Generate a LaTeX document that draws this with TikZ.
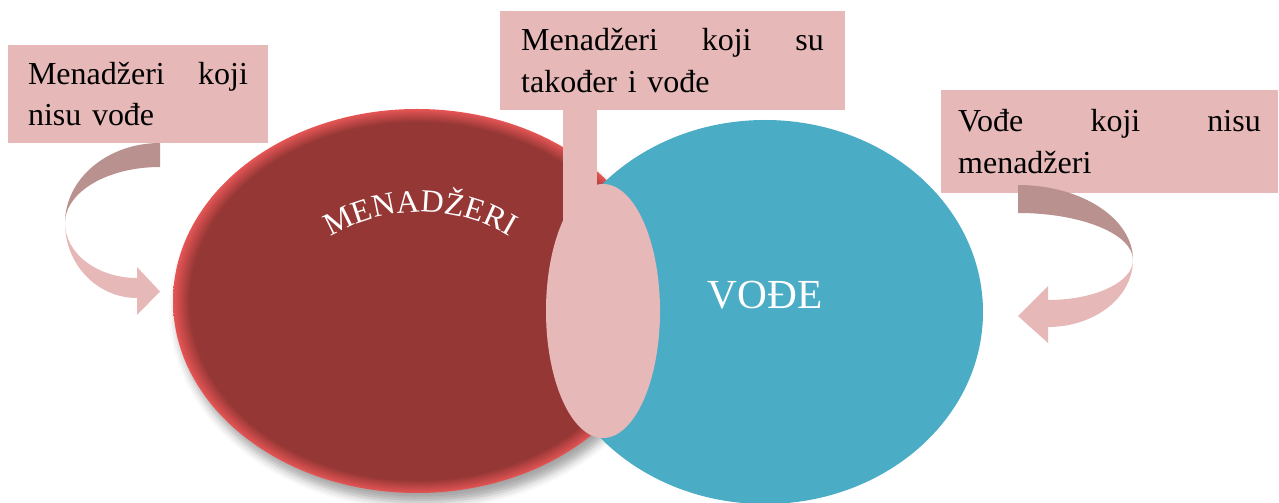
\documentclass[tikz,border=0pt]{standalone}
\usepackage{fontspec}
\setmainfont{Liberation Serif}
\usepackage{xcolor}
\usetikzlibrary{shapes.geometric, shadows.blur, decorations.text, positioning}
\definecolor{boxpink}{HTML}{E6B8B7}
\definecolor{arrowdark}{HTML}{B9928F}
\definecolor{menred}{HTML}{953735}
\definecolor{rimred}{HTML}{E55555}
\definecolor{vodeblue}{HTML}{4BACC6}
\pgfdeclareradialshading{menrim}{\pgfpoint{0bp}{0bp}}{color(0bp)=(menred); color(23.3bp)=(menred); color(25bp)=(rimred); color(50bp)=(rimred)}
\tikzset{
	okvir/.style={rectangle, fill=boxpink, inner sep=0pt, align=left, font=\fontsize{24}{31}\selectfont},
	krug/.style={ellipse, inner sep=0pt},
	tamna/.style={fill=arrowdark},
	svijetla/.style={fill=boxpink}
}

\begin{document}
\begin{tikzpicture}[x=0.75pt, y=0.75pt]
	\useasboundingbox (0,0) rectangle (1279,503);

	\node[krug, minimum width=366pt, minimum height=288pt, shade, shading=menrim,
		blur shadow={shadow xshift=3pt, shadow yshift=-7pt, shadow blur radius=6pt, shadow opacity=35}] (MEN) at (417,202) {};
	\node[krug, minimum width=327pt, minimum height=288pt, fill=vodeblue] (VOD) at (765,191) {};
	\node[krug, minimum width=85.5pt, minimum height=190.5pt, fill=boxpink] (OBA) at (603,192) {};

	\node[okvir, minimum width=195pt, minimum height=73.5pt, text width=165pt] (L) at (138,409) {Menadžeri\hfill koji\\nisu vođe};
	\node[okvir, minimum width=258.75pt, minimum height=74.25pt, text width=227pt] (S) at (672.5,442.5) {Menadžeri\hfill koji\hfill su\\također i vođe};
	\node[okvir, minimum width=252.75pt, minimum height=77.25pt, text width=227pt] (D) at (1109.5,361.5) {Vođe\hfill koji\hfill nisu\\menadžeri};

	\fill[svijetla] (563,0 |- S.south) rectangle (597,273);

	\fill[tamna] (160,360) arc[start angle=90, end angle=180, x radius=95, y radius=80]
		arc[start angle=180, end angle=90, x radius=95, y radius=56] -- cycle;
	\fill[svijetla] (65,280) arc[start angle=180, end angle=270, x radius=72, y radius=75]
		-- (137,188) -- (160,211.5) -- (137,236) -- (137,225)
		arc[start angle=270, end angle=180, x radius=72, y radius=55] -- cycle;

	\fill[tamna] (1018,318) arc[start angle=90, end angle=0, x radius=115, y radius=75]
		arc[start angle=0, end angle=90, x radius=115, y radius=47] -- cycle;
	\fill[svijetla] (1133,243) arc[start angle=0, end angle=-90, x radius=85, y radius=67]
		-- (1048,160) -- (1018,187) -- (1048,217) -- (1048,203)
		arc[start angle=-90, end angle=0, x radius=85, y radius=40] -- cycle;

	\node[text=white, font=\fontsize{31}{36}\selectfont] (VT) at (765,208) {VOĐE};
	\path[decorate, decoration={text along path, text align=center,
		text={|\fontsize{24}{28}\selectfont\color{white}|MENADŽERI}}]
		(420,118) ++(150:173) arc[start angle=150, end angle=30, radius=173];
\end{tikzpicture}
\end{document}
